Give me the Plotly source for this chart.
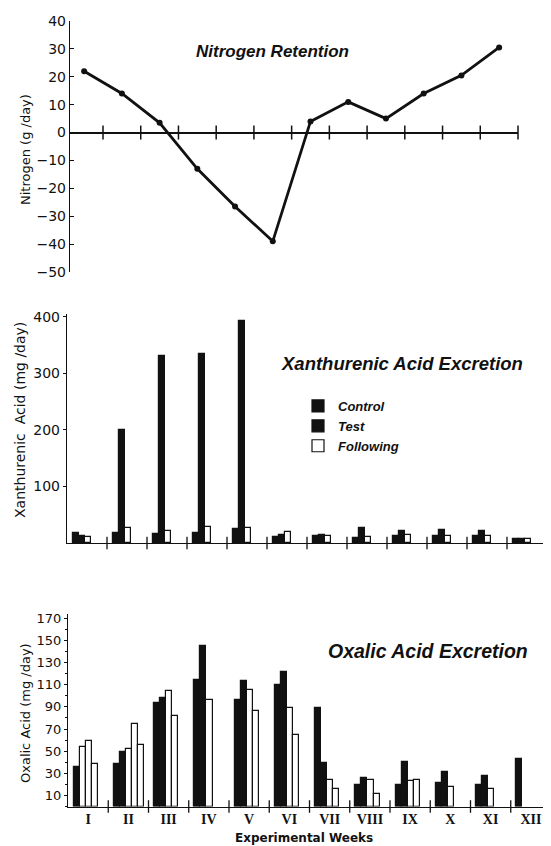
import plotly.graph_objects as go

# ---------------- data ----------------
weeks = ["I", "II", "III", "IV", "V", "VI", "VII", "VIII", "IX", "X", "XI", "XII"]

nitrogen = [22, 14, 3.5, -13, -26.5, -39, 4, 11, 5, 14, 20.5, 30.5]

xanth_control = [18, 18, 16, 17, 24, 10, 12, 8, 12, 12, 12, 7]
xanth_test = [12, 200, 331, 334, 392, 14, 15, 26, 22, 23, 22, 7]
xanth_following = [[10], [27], [22], [28], [27], [19], [12], [10], [14], [12], [12], [7]]

oxalic_control = [36, 38, 94, 114, 96, 110, 89, 19, 19, 21, 19, 43]
oxalic_test = [None, 49, 98, 145, 113, 122, 39, 26, 40, 31, 28, None]
oxalic_following = [[54, 59, 38], [52, 75, 56], [104, 82], [96], [105, 86], [89, 65],
                    [24, 16], [24, 11], [23, 24], [18], [16], []]

nitro_ticks = [-50, -40, -30, -20, -10, 0, 10, 20, 30, 40]
xanth_ticks = [100, 200, 300, 400]
oxalic_ticks = [10, 30, 50, 70, 90, 110, 130, 150, 170]

# ---------------- layout helpers ----------------
# the page body keeps its default 8px margin, so the figure is 8px smaller
PAGE_W, PAGE_H, BODY = 551, 846, 8
W, H = PAGE_W - BODY, PAGE_H - BODY
BAR_W = 0.15
OFFSET = 0.14
INK = "#111111"
SANS = "DejaVu Sans"
TITLE_FONT = dict(family="Liberation Sans", size=17, color=INK, weight="bold", style="italic")


def fx(p):
    return (p - BODY) / W


def fy(p):
    return 1 - (p - BODY) / H


def bar_positions(control, test, following):
    xs = {"c": ([], []), "t": ([], []), "f": ([], [])}
    for i in range(len(weeks)):
        slot = 0

        def put(key, val):
            nonlocal slot
            xs[key][0].append(i + OFFSET + (slot + 0.5) * BAR_W)
            xs[key][1].append(val)
            slot += 1

        if control[i] is not None:
            put("c", control[i])
        if test[i] is not None:
            put("t", test[i])
        for v in following[i]:
            put("f", v)
    return xs


fig = go.Figure()

# ---------------- top: nitrogen ----------------
centers = [i + 0.5 for i in range(len(weeks))]
bounds = list(range(1, len(weeks) + 1))

fig.add_trace(go.Scatter(
    x=centers, y=nitrogen, mode="lines+markers",
    line=dict(color=INK, width=2.8), marker=dict(color=INK, size=6),
    xaxis="x", yaxis="y", showlegend=False, hoverinfo="skip"))
fig.add_trace(go.Scatter(
    x=bounds, y=[0] * len(bounds), mode="markers",
    marker=dict(symbol="line-ns", size=10, line=dict(color=INK, width=1.5)),
    xaxis="x", yaxis="y", showlegend=False, hoverinfo="skip", cliponaxis=False))

# ---------------- middle: xanthurenic ----------------
xb = bar_positions(xanth_control, xanth_test, xanth_following)
series = [("Control", "c", INK), ("Test", "t", INK), ("Following", "f", "white")]
for name, key, col in series:
    fig.add_trace(go.Bar(
        x=xb[key][0], y=xb[key][1], width=BAR_W, name=name,
        marker=dict(color=col, line=dict(color=INK, width=1.2)),
        xaxis="x2", yaxis="y2", showlegend=True, hoverinfo="skip"))
fig.add_trace(go.Scatter(
    x=bounds, y=[0] * len(bounds), mode="markers",
    marker=dict(symbol="line-ns", size=9, line=dict(color=INK, width=1.3)),
    xaxis="x2", yaxis="y2", showlegend=False, hoverinfo="skip", cliponaxis=False))

# ---------------- bottom: oxalic ----------------
ob = bar_positions(oxalic_control, oxalic_test, oxalic_following)
for name, key, col in series:
    fig.add_trace(go.Bar(
        x=ob[key][0], y=ob[key][1], width=BAR_W, name=name,
        marker=dict(color=col, line=dict(color=INK, width=1.2)),
        xaxis="x3", yaxis="y3", showlegend=False, hoverinfo="skip"))
fig.add_trace(go.Scatter(
    x=bounds[:-1], y=[0] * (len(bounds) - 1), mode="markers",
    marker=dict(symbol="line-ns", size=9, line=dict(color=INK, width=1.3)),
    xaxis="x3", yaxis="y3", showlegend=False, hoverinfo="skip", cliponaxis=False))

axis_common = dict(showgrid=False, zeroline=False, linecolor=INK, tickcolor=INK,
                   fixedrange=True, automargin=False)

fig.update_layout(
    width=W, height=H, margin=dict(l=0, r=0, t=0, b=0),
    paper_bgcolor="white", plot_bgcolor="white",
    barmode="overlay", bargap=0,
    font=dict(family=SANS, color=INK),
    xaxis=dict(domain=[fx(70), fx(518)], range=[0.125, 12], visible=False, anchor="y", **axis_common),
    yaxis=dict(domain=[fy(272), fy(21)], range=[-50, 40], anchor="x",
               showgrid=False, fixedrange=True, automargin=False,
               zeroline=True, zerolinecolor=INK, zerolinewidth=1.6,
               showline=True, linecolor=INK, linewidth=1.4,
               tickmode="array", tickvals=nitro_ticks,
               ticks="inside", ticklen=4, tickcolor=INK,
               tickfont=dict(family=SANS, size=14, color=INK)),
    xaxis2=dict(domain=[fx(67), fx(547)], range=[0, 12], anchor="y2",
                showline=True, linewidth=1.4, showticklabels=False, ticks="", **axis_common),
    yaxis2=dict(domain=[fy(543), fy(314)], range=[0, 405], anchor="x2",
                showline=True, linewidth=1.4, tickmode="array", tickvals=xanth_ticks,
                ticks="outside", ticklen=3,
                tickfont=dict(family=SANS, size=14, color=INK), **axis_common),
    xaxis3=dict(domain=[fx(68), 1.0], range=[0, 12], anchor="y3",
                showline=True, linewidth=1.2, tickmode="array", tickvals=centers,
                ticktext=weeks, ticks="",
                tickfont=dict(family="Liberation Serif", size=14, color=INK, weight="bold"),
                **axis_common),
    yaxis3=dict(domain=[fy(806.5), fy(614)], range=[0, 174], anchor="x3",
                showline=True, linewidth=1.2, tickmode="array", tickvals=oxalic_ticks,
                ticks="outside", ticklen=3,
                minor=dict(dtick=10, tick0=0, ticks="outside", ticklen=2, tickcolor=INK),
                tickfont=dict(family=SANS, size=13, color=INK), **axis_common),
    legend=dict(x=fx(298), y=fy(391), xanchor="left", yanchor="top",
                bgcolor="rgba(0,0,0,0)", tracegroupgap=0, itemwidth=30,
                font=dict(family="Liberation Sans", size=13, color=INK,
                          weight="bold", style="italic")),
)

annotations = [
    dict(text="Nitrogen Retention", x=fx(272), y=fy(51), font=TITLE_FONT),
    dict(text="Xanthurenic Acid Excretion", x=fx(402), y=fy(363),
         font=dict(TITLE_FONT, size=18.5)),
    dict(text="Oxalic Acid Excretion", x=fx(428), y=fy(651),
         font=dict(TITLE_FONT, size=19.5)),
    dict(text="Nitrogen (g /day)", x=fx(26), y=fy(150), textangle=-90,
         font=dict(family=SANS, size=13, color=INK)),
    dict(text="Xanthurenic  Acid (mg /day)", x=fx(20), y=fy(420), textangle=-90,
         font=dict(family=SANS, size=14, color=INK)),
    dict(text="Oxalic Acid (mg /day)", x=fx(25), y=fy(713), textangle=-90,
         font=dict(family=SANS, size=13, color=INK)),
    dict(text="Experimental Weeks", x=fx(304), y=fy(838),
         font=dict(family=SANS, size=12, color=INK, weight="bold")),
]
for a in annotations:
    a.update(xref="paper", yref="paper", showarrow=False, xanchor="center", yanchor="middle")
fig.update_layout(annotations=annotations)

fig.write_html("out.html")
